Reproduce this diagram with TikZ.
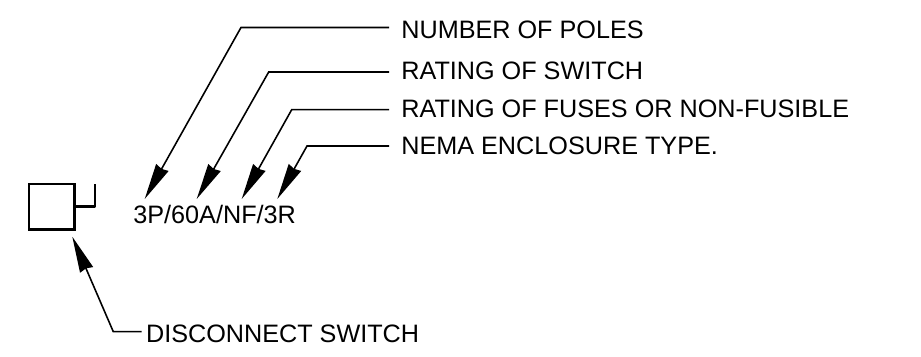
\documentclass[tikz,border=0pt]{standalone}
\usepackage{fontspec}
\setmainfont{Liberation Sans}
\usetikzlibrary{arrows.meta}
\usetikzlibrary{positioning}

\tikzset{
  callout/.style={anchor=west, inner xsep=0.24cm, inner ysep=0pt, font=\fontsize{14.35pt}{16pt}\selectfont},
  leader/.style={line width=0.9pt, -{Stealth[length=0.72cm, width=0.28cm, inset=0.03cm]}},
}

\begin{document}
\begin{tikzpicture}[x=0.02cm, y=-0.02cm]

  \useasboundingbox (0,0) rectangle (921,357);

  % Symbole du sectionneur
  \node[draw, line width=1.4pt, minimum size=0.91cm, inner sep=0pt] (switchbox) at (51.8,206.6) {};
  \coordinate (handleCorner) at (95,206.6);
  \coordinate (handleTop) at (95,184.5);
  \draw[line width=1.4pt, line join=round] (switchbox.east) -- (handleCorner) -- (handleTop);

  % Texte de la designation
  \node[font=\fontsize{14.35pt}{16pt}\selectfont, inner sep=0pt, anchor=west] (rating) at (133,214) {3P/60A/NF/3R};

  % Textes a droite
  \node[callout] (poles) at (389,30) {NUMBER OF POLES};
  \node[callout] (switchRating) at (389,71) {RATING OF SWITCH};
  \node[callout] (fuses) at (389,109) {RATING OF FUSES OR NON-FUSIBLE};
  \node[callout] (nema) at (389,146) {NEMA ENCLOSURE TYPE.};
  \node[callout, inner xsep=0.08cm] (disconnect) at (141.7,334) {DISCONNECT SWITCH};

  % Coudes et pointes
  \coordinate (polesElbow) at (241,27.5);
  \coordinate (polesTip) at (144.7,199);
  \coordinate (switchElbow) at (268.7,72);
  \coordinate (switchTip) at (196.7,199);
  \coordinate (fusesElbow) at (291.7,109.7);
  \coordinate (fusesTip) at (241.7,199);
  \coordinate (nemaElbow) at (307,146);
  \coordinate (nemaTip) at (277.3,199);
  \coordinate (disconnectElbow) at (113.3,331.7);
  \coordinate (disconnectTip) at (72.3,236.7);

  \draw[leader] (poles.west |- polesElbow) -- (polesElbow) -- (polesTip);
  \draw[leader] (switchRating.west |- switchElbow) -- (switchElbow) -- (switchTip);
  \draw[leader] (fuses.west |- fusesElbow) -- (fusesElbow) -- (fusesTip);
  \draw[leader] (nema.west |- nemaElbow) -- (nemaElbow) -- (nemaTip);
  \draw[leader] (disconnect.west |- disconnectElbow) -- (disconnectElbow) -- (disconnectTip);

\end{tikzpicture}
\end{document}
